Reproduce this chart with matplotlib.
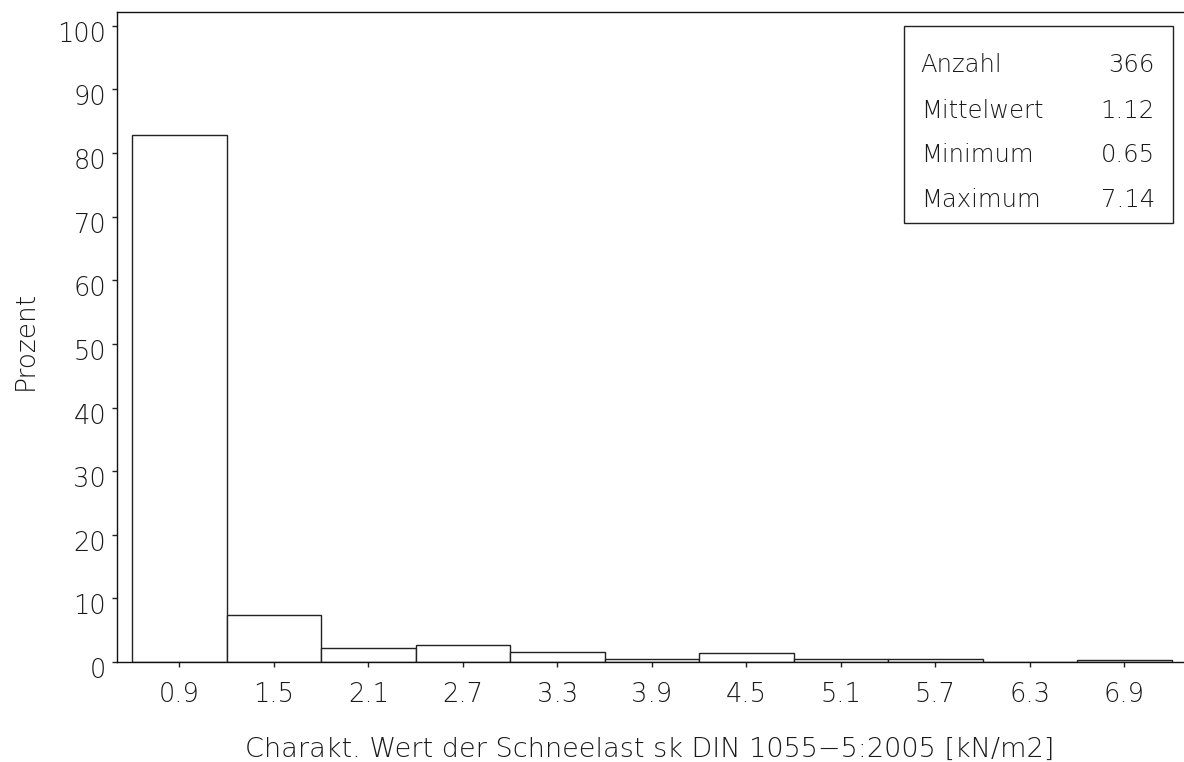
import matplotlib
matplotlib.use("Agg")
import matplotlib.pyplot as plt
import matplotlib.patches as mpatches
import matplotlib.transforms as mtransforms

# Histogram classes (midpoints, kN/m2) and percentage of stations per class
class_mids = [0.9, 1.5, 2.1, 2.7, 3.3, 3.9, 4.5, 5.1, 5.7, 6.3, 6.9]
percent = [82.79, 7.38, 2.19, 2.73, 1.64, 0.55, 1.37, 0.55, 0.55, 0.0, 0.27]
class_width = 0.6

tick_labels = ["0.9", "1.5", "2.1", "2.7", "3.3", "3.9", "4.5", "5.1", "5.7", "6.3", "6.9"]
y_ticks = [0, 10, 20, 30, 40, 50, 60, 70, 80, 90, 100]

stat_names = ["Anzahl", "Mittelwert", "Minimum", "Maximum"]
stat_values = ["366", "1.12", "0.65", "7.14"]

FONT = "DejaVu Sans"
WEIGHT = "light"
TXT = "#1a1a1a"

W, H = 1184, 762
fig = plt.figure(figsize=(W / 100, H / 100), dpi=100)

def px2fig(x, y):
    return x / W, (H - y) / H

# Plot frame in pixel coordinates (the frame runs off the right edge)
left_px, right_px, bottom_px, top_px = 117.3, 1184.0, 662.0, 11.7
ax = fig.add_axes([left_px / W, (H - bottom_px) / H,
                   (right_px - left_px) / W, (bottom_px - top_px) / H])

ax.bar(class_mids, percent, width=class_width, align="center",
       facecolor="white", edgecolor="#222222", linewidth=1.0)

px_per_unit = 94.5 / class_width
x_left = class_mids[0] - (179.3 - left_px) / px_per_unit
x_right = class_mids[0] + (right_px - 179.3) / px_per_unit
ax.set_xlim(x_left, x_right)
y_px_per_unit = 6.362
ax.set_ylim(0, (bottom_px - top_px) / y_px_per_unit)

ax.set_xticks(class_mids)
ax.set_xticklabels(tick_labels)
ax.set_yticks(y_ticks)
ax.set_yticklabels([str(v) for v in y_ticks])

ax.tick_params(axis="both", direction="out", length=3.5, width=1.0,
               color="#222222")
ax.tick_params(axis="x", pad=11.2)
ax.tick_params(axis="y", pad=4.5)

down = mtransforms.ScaledTranslation(0, -6 / 100, fig.dpi_scale_trans)
for lbl in ax.get_xticklabels() + ax.get_yticklabels():
    lbl.set_fontfamily(FONT)
    lbl.set_fontweight(WEIGHT)
    lbl.set_fontsize(18.5)
    lbl.set_color(TXT)
for lbl in ax.get_yticklabels():
    lbl.set_transform(lbl.get_transform() + down)

ax.spines["right"].set_visible(False)
for s in ("left", "top", "bottom"):
    ax.spines[s].set_linewidth(1.0)
    ax.spines[s].set_color("#111111")

# Axis titles
fx, fy = px2fig(32.7, 340)
fig.text(fx, fy, "Prozent", rotation=90, rotation_mode="anchor",
         ha="center", va="baseline", fontfamily=FONT, fontweight=WEIGHT,
         fontsize=19, color=TXT)
fx, fy = px2fig(650, 757)
fig.text(fx, fy, "Charakt. Wert der Schneelast sk DIN 1055\u22125:2005 [kN/m2]",
         ha="center", va="baseline", fontfamily=FONT, fontweight=WEIGHT,
         fontsize=19.5, color=TXT)

# Statistics box in the upper right corner
bx0, by0 = px2fig(904, 222.7)
bx1, by1 = px2fig(1172.7, 26)
fig.add_artist(mpatches.Rectangle((bx0, by0), bx1 - bx0, by1 - by0,
                                  transform=fig.transFigure, facecolor="white",
                                  edgecolor="#222222", linewidth=1.0))
row_baselines = [71.7, 118.0, 162.5, 207.0]
for name, val, yy in zip(stat_names, stat_values, row_baselines):
    fx, fy = px2fig(920.7, yy)
    fig.text(fx, fy, name, ha="left", va="baseline", fontfamily=FONT,
             fontweight=WEIGHT, fontsize=17.5, color=TXT)
    fx, fy = px2fig(1155, yy)
    fig.text(fx, fy, val, ha="right", va="baseline", fontfamily=FONT,
             fontweight=WEIGHT, fontsize=17.5, color=TXT)

fig.savefig("out.png", dpi=100)
